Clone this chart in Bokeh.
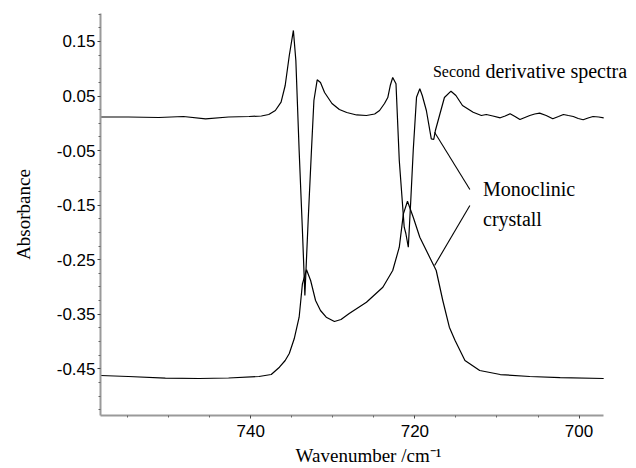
from bokeh.plotting import figure
from bokeh.models import Range1d, FixedTicker, PrintfTickFormatter, Label
from bokeh.embed import file_html
from bokeh.resources import INLINE

# Second derivative spectrum (wavenumber, value)
deriv_wn = [758.3, 754.9, 751.2, 748.2, 745.5, 742.7, 740.2, 738.7, 737.8, 737.0, 736.3, 735.8,
            735.3, 734.8, 734.5, 734.1, 733.7, 733.4, 733.0, 732.6, 732.3, 731.9, 731.5, 731.0,
            730.1, 729.2, 728.3, 727.1, 725.9, 724.9, 724.3, 723.7, 723.3, 723.0, 722.7, 722.3,
            721.9, 721.3, 721.1, 720.8, 720.5, 720.2, 719.8, 719.4, 719.1, 718.6, 718.0, 717.7,
            717.5, 717.0, 716.4, 715.6, 715.0, 714.2, 712.9, 711.9, 711.3, 710.5, 709.6, 709.0,
            708.4, 707.8, 707.2, 706.6, 706.0, 705.4, 704.8, 704.0, 703.2, 702.5, 701.9, 701.3,
            700.7, 700.1, 699.5, 698.9, 698.3, 697.6, 697.0]
deriv_val = [0.0116, 0.0116, 0.0107, 0.0125, 0.0083, 0.0116, 0.0125, 0.0134, 0.0162, 0.0235, 0.0387, 0.0693,
             0.1243, 0.1702, 0.1152, -0.0498, -0.1965, -0.3156, -0.1781, -0.0498, 0.0418, 0.0798, 0.0748, 0.0565,
             0.0363, 0.0253, 0.0198, 0.0153, 0.0143, 0.0171, 0.0235, 0.0363, 0.0473, 0.0693, 0.0840, 0.0725,
             -0.0682, -0.1904, -0.2020, -0.2271, -0.1415, -0.0498, 0.0479, 0.0633, 0.0510, 0.0235, -0.0284, -0.0296,
             -0.0132, 0.0143, 0.0473, 0.0589, 0.0510, 0.0327, 0.0204, 0.0143, 0.0162, 0.0134, 0.0101, 0.0134,
             0.0175, 0.0125, 0.0070, 0.0107, 0.0143, 0.0171, 0.0186, 0.0143, 0.0083, 0.0125, 0.0162, 0.0143,
             0.0125, 0.0088, 0.0065, 0.0098, 0.0125, 0.0116, 0.0101]

# Absorbance spectrum (wavenumber, value)
abs_wn = [758.3, 754.9, 750.4, 746.3, 742.7, 739.0, 737.5, 736.5, 735.8, 735.3, 734.7, 734.1,
          733.7, 733.2, 732.7, 732.1, 731.5, 730.8, 729.8, 729.0, 728.0, 725.9, 723.9, 722.7,
          721.9, 721.4, 720.9, 720.2, 719.4, 718.2, 717.4, 716.6, 715.8, 715.1, 713.9, 712.1,
          709.6, 706.0, 702.3, 697.0]
abs_val = [-0.4623, -0.4641, -0.4672, -0.4678, -0.4669, -0.4641, -0.4605, -0.4471, -0.4348, -0.4220, -0.3950, -0.3554,
           -0.2942, -0.2685, -0.2881, -0.3248, -0.3431, -0.3554, -0.3633, -0.3596, -0.3486, -0.3279, -0.3004, -0.2698,
           -0.2271, -0.1659, -0.1428, -0.1721, -0.2088, -0.2454, -0.2698, -0.3248, -0.3737, -0.3981, -0.4348, -0.4531,
           -0.4605, -0.4641, -0.4660, -0.4678]

# Annotation pointer lines
pointer1_wn = [717.6, 713.3]
pointer1_val = [-0.0163, -0.1213]
pointer2_wn = [713.3, 717.6]
pointer2_val = [-0.1506, -0.2606]

y_ticks = [0.15, 0.05, -0.05, -0.15, -0.25, -0.35, -0.45]
y_minor = [0.2, 0.175, 0.125, 0.1, 0.075, 0.025, 0.0, -0.025, -0.075, -0.1, -0.125, -0.175, -0.2, -0.225,
           -0.275, -0.3, -0.325, -0.375, -0.4, -0.425, -0.475, -0.5, -0.525]
x_ticks = [740, 720, 700]
x_minor = [755, 750, 745, 735, 730, 725, 715, 710, 705]
x_axis_extent = (697.0, 758.3)

p = figure(width=636, height=468, output_backend="svg", toolbar_location=None,
           x_range=Range1d(758.3, 693.0), y_range=Range1d(-0.5356, 0.2013),
           min_border_left=100, min_border_right=0, min_border_top=13, min_border_bottom=53)
p.outline_line_color = None
p.xgrid.visible = False
p.ygrid.visible = False
p.background_fill_color = "white"
p.border_fill_color = "white"

p.line(deriv_wn, deriv_val, line_color="black", line_width=1.2)
p.line(abs_wn, abs_val, line_color="black", line_width=1.2)
p.line(pointer1_wn, pointer1_val, line_color="black", line_width=1.1)
p.line(pointer2_wn, pointer2_val, line_color="black", line_width=1.1)

for ax in (p.xaxis[0], p.yaxis[0]):
    ax.axis_line_color = "#9a9a9a"
    ax.axis_line_width = 2
    ax.major_tick_line_color = "#444444"
    ax.minor_tick_line_color = "#666666"
    ax.major_tick_in = 0
    ax.major_tick_out = 3
    ax.minor_tick_in = 0
    ax.minor_tick_out = 2
    ax.major_label_text_font = "Liberation Sans"
    ax.major_label_text_font_size = "17px"
    ax.major_label_text_color = "black"
    ax.axis_label_text_font = "Liberation Serif"
    ax.axis_label_text_font_style = "normal"
    ax.axis_label_text_font_size = "19px"
    ax.axis_label_text_color = "black"

p.yaxis[0].ticker = FixedTicker(ticks=y_ticks, minor_ticks=y_minor)
p.yaxis[0].formatter = PrintfTickFormatter(format="%.2f")
p.yaxis[0].major_label_standoff = 2
p.yaxis[0].axis_label = "Absorbance"
p.yaxis[0].axis_label_standoff = 20

p.xaxis[0].ticker = FixedTicker(ticks=x_ticks, minor_ticks=x_minor)
p.xaxis[0].bounds = x_axis_extent
p.xaxis[0].major_label_standoff = 6
p.xaxis[0].axis_label = "Wavenumber /cm\u207b\u00b9"
p.xaxis[0].axis_label_standoff = 5

p.add_layout(Label(x=717.8, y=0.0956, text="Second", text_font="Liberation Serif",
                   text_font_size="16px", text_baseline="alphabetic", text_color="black"))
p.add_layout(Label(x=711.4, y=0.0956, text="derivative spectra", text_font="Liberation Serif",
                   text_font_size="20px", text_baseline="alphabetic", text_color="black"))
p.add_layout(Label(x=711.7, y=-0.1213, text="Monoclinic", text_font="Liberation Serif",
                   text_font_size="20px", text_baseline="alphabetic", text_color="black"))
p.add_layout(Label(x=711.7, y=-0.1745, text="crystall", text_font="Liberation Serif",
                   text_font_size="20px", text_baseline="alphabetic", text_color="black"))

open("out.html", "w").write(file_html(p, INLINE))
